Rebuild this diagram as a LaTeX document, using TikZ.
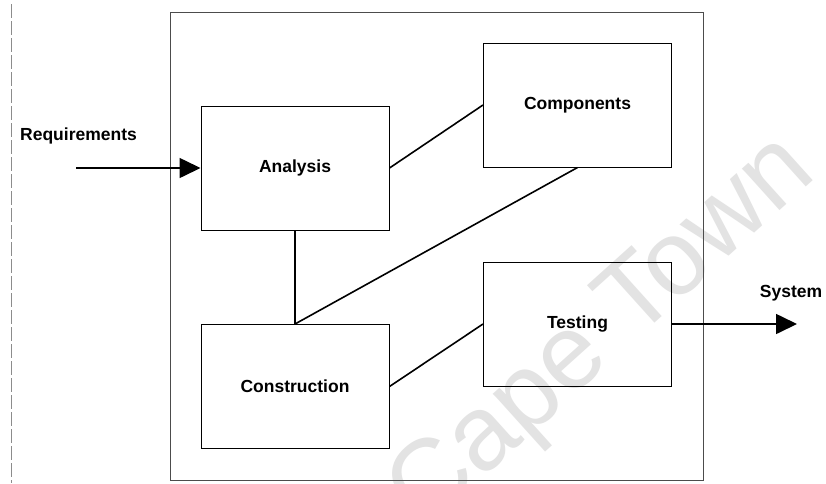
\documentclass[tikz,border=0pt]{standalone}
\usepackage{fontspec}
\setmainfont{Liberation Sans}
\usetikzlibrary{arrows.meta}
\begin{document}
\begin{tikzpicture}[x=1pt,y=-1pt,
  stage/.style={draw=black,line width=1pt,minimum width=188pt,minimum height=124pt,
    inner sep=0pt,font=\fontsize{17.5}{20}\selectfont\bfseries},
  label/.style={inner sep=0pt,font=\fontsize{17.5}{20}\selectfont\bfseries},
  link/.style={draw=black,line width=1.6pt},
  flow/.style={link,-{Triangle[length=21pt,width=20pt]}}]
  \useasboundingbox (0,0) rectangle (826,483);
  \fill[white] (0,0) rectangle (826,483);
  % faint watermark
  \node[text=black!11,rotate=42,font=\fontsize{106}{116}\selectfont,inner sep=0pt]
    (mark) at (604,334) {Cape Town};
  % page rule at the left edge
  \draw[black!45,line width=0.6pt,dash pattern=on 14pt off 3pt] (11,4) coordinate (ruleTop) -- (11,483) coordinate (ruleBot);
  % enclosing frame
  \node[draw=black!70,line width=0.9pt,minimum width=533pt,minimum height=468pt,inner sep=0pt]
    (frame) at (436.5,246) {};
  % stages
  \node[stage] (ana) at (295,168) {Analysis};
  \node[stage] (com) at (577.5,105) {Components};
  \node[stage] (con) at (295,386.5) {Construction};
  \node[stage] (tes) at (577.5,324) {Testing};
  % inputs and outputs
  \node[label] (req) at (78.5,136) {Requirements};
  \node[label] (sys) at (791,293) {System};
  \coordinate (reqStart) at (76,168);
  \coordinate (sysEnd) at (797,324);
  % connectors
  \draw[flow] (reqStart) -- (ana.west);
  \draw[link] (ana.east) -- (com.west);
  \draw[link] (ana.south) -- (con.north);
  \draw[link] (com.south) -- (con.north);
  \draw[link] (con.east) -- (tes.west);
  \draw[flow] (tes.east) -- (sysEnd);
\end{tikzpicture}
\end{document}
